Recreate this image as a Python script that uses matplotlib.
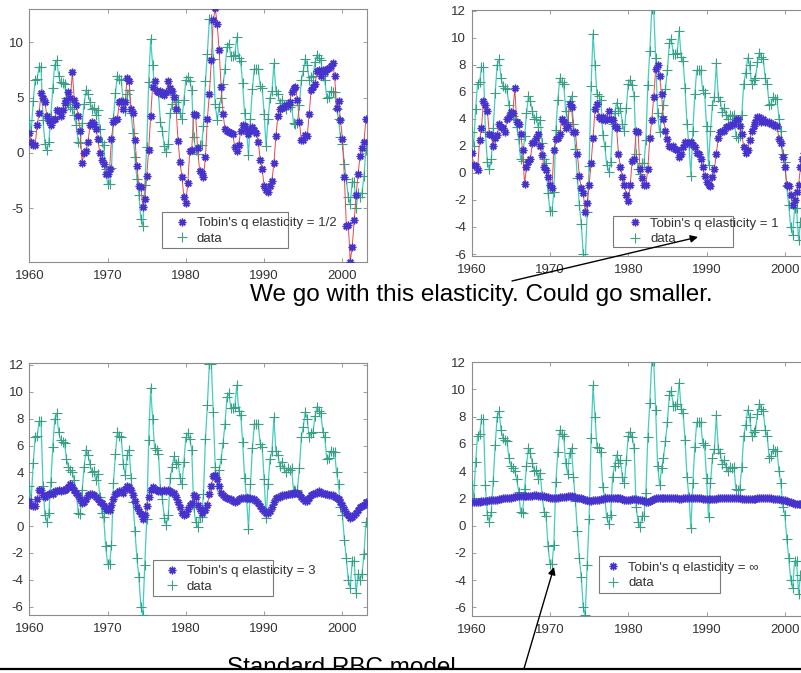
"""Tobin's q elasticity: model vs data, four panels pasted on one slide."""

import matplotlib
import numpy as np

matplotlib.use("Agg")
import matplotlib.pyplot as plt
from matplotlib.lines import Line2D
from matplotlib.patches import FancyArrowPatch, Rectangle

W, H = 801, 673
DPI = 100
FONT = ["Liberation Sans", "DejaVu Sans"]
TICK_SIZE = 9.5
LEGEND_SIZE = 9.5
NOTE_SIZE = 17.5

START_YEAR = 1960

# quarterly, 1960Q1 .. 2003Q1
DATA = [
    3.0, 2.0, 4.7, 6.6,  6.7, 7.8, 7.8, 3.0,  0.8, 0.3, 1.0, 3.3,
    5.9, 8.0, 8.4, 7.0,  6.4, 6.3, 6.2, 5.0,  4.4, 4.2, 4.0, 3.4,
    2.5, 1.0, 0.9, 2.7,  4.4, 5.7, 5.3, 4.6,  4.0, 4.1, 3.4, 3.9,
    2.2, 1.0, 0.7, -1.5,  -2.8, -2.8, -1.4, 3.2,  5.4, 7.0, 6.7, 6.6,
    4.6, 3.8, 5.3, 5.7,  3.6, 1.8, -0.4, -2.4,  -3.8, -6.0, -6.6, -2.9,
    0.5, 6.4, 10.3, 8.0,  5.8, 5.7, 5.4, 2.8,  2.0, 0.6, 0.1, 0.8,
    3.6, 4.4, 5.2, 4.6,  4.8, 3.6, 3.1, 4.8,  6.6, 6.9, 6.5, 5.7,
    1.4, 0.3, -0.1, 0.7,  0.7, 2.4, 6.5, 9.0,  12.1, 12.1, 8.5, 4.4,
    3.0, 4.2, 5.0, 6.2,  7.6, 9.6, 9.9, 8.8,  8.8, 8.9, 10.5, 8.6,
    8.3, 6.3, 3.6, 2.1,  -0.2, 3.1, 5.8, 7.6,  7.6, 7.6, 6.1, 5.9,
    3.5, 0.6, 3.1, 5.0,  5.6, 8.1, 5.6, 5.3,  4.5, 4.8, 4.3, 4.0,
    4.3, 4.2, 4.3, 2.7,  2.6, 2.7, 4.3, 6.6,  7.4, 8.5, 8.0, 6.6,
    6.9, 7.0, 8.2, 8.9,  8.6, 8.4, 7.0, 6.6,  5.0, 5.1, 5.6, 5.5,
    5.5, 4.0, 3.1, 1.4,  0.8, -1.0, -2.4, -4.0,  -4.6, -2.6, -2.6, -5.0,
    -3.6, -4.0, -3.6, -2.1,  0.3,
]

MODEL_HALF = [
    1.8, 1.0, 0.7, 0.7,  2.5, 3.6, 5.4, 5.0,  4.6, 3.3, 2.9, 2.5,
    3.0, 3.1, 3.9, 3.8,  3.3, 3.9, 4.5, 4.8,  5.5, 5.0, 7.3, 4.8,
    4.3, 3.3, 2.0, -0.9,  0.0, 0.2, 1.0, 2.5,  2.8, 2.6, 2.2, 1.3,
    0.0, -0.6, -1.0, -1.9,  -1.9, -1.5, 1.3, 2.8,  3.0, 3.1, 4.6, 4.7,
    4.0, 4.6, 6.8, 6.5,  4.0, 3.6, 1.2, -1.2,  -3.0, -3.1, -4.9, -4.2,
    -2.1, 0.3, 3.3, 6.0,  6.5, 5.6, 5.5, 5.6,  5.3, 5.2, 5.5, 6.5,
    5.9, 5.6, 5.1, 4.0,  1.1, -0.8, -2.2, -4.0,  -4.5, -2.7, 0.2, 0.3,
    3.5, 3.4, 0.4, -1.6,  -1.8, -2.2, -0.4, 3.1,  5.3, 8.4, 12.0, 13.1,
    11.7, 9.3, 6.0, 3.5,  2.2, 2.0, 1.9, 1.8,  1.7, 0.5, 0.2, 0.7,
    2.0, 2.5, 2.4, 2.1,  1.7, 2.0, 2.3, 2.1,  1.8, 1.0, -0.6, -1.5,
    -3.0, -3.4, -3.5, -3.0,  -2.5, -0.9, 1.5, 3.3,  4.0, 4.1, 4.2, 4.3,
    4.3, 4.6, 5.5, 5.9,  6.0, 4.8, 2.8, 1.2,  1.2, 1.6, 1.5, 3.5,
    5.7, 6.0, 6.2, 7.4,  7.5, 7.0, 7.5, 7.3,  7.6, 7.7, 7.9, 8.1,
    7.0, 4.1, 4.7, 3.0,  1.3, -2.2, -6.6, -6.5,  -9.85, -8.5, -6.1, -3.8,
    -1.9, -0.3, 0.4, 1.0,  3.1,
]

MODEL_ONE = [
    1.5, 0.6, 0.5, 0.2,  2.4, 3.3, 5.3, 5.0,  4.6, 2.9, 2.8, 2.0,
    2.6, 2.8, 3.6, 3.4,  3.3, 3.0, 4.0, 4.1,  4.5, 4.4, 6.3, 3.75,
    3.6, 2.9, 1.7, -0.8,  0.4, 0.8, 1.05, 2.2,  2.3, 2.6, 2.9, 2.0,
    1.3, 0.4, 0.2, -0.3,  -0.9, -1.15, 1.7, 2.5,  2.6, 2.9, 4.0, 3.8,
    3.3, 3.5, 5.1, 4.9,  3.0, 3.0, 1.4, -0.2,  -1.15, -1.5, -2.9, -2.25,
    -0.9, 0.7, 2.6, 4.7,  5.1, 4.1, 4.0, 4.1,  3.9, 4.0, 4.6, 4.0,
    3.9, 3.5, 3.3, 1.4,  0.45, -0.3, -0.9, -1.6,  -2.1, -0.9, 0.9, 1.0,
    3.1, 3.0, 0.3, -0.4,  -0.9, -0.9, 0.3, 2.6,  3.9, 5.6, 7.7, 8.0,
    7.2, 5.8, 4.0, 3.1,  2.5, 2.0, 1.9, 2.0,  1.8, 1.7, 1.2, 1.4,
    1.9, 2.3, 2.2, 2.2,  2.3, 2.1, 1.9, 1.5,  1.4, 1.05, 0.45, -0.2,
    -0.65, -0.9, -1.0, -0.3,  0.3, 1.4, 2.6, 3.0,  3.1, 3.1, 3.4, 3.5,
    3.5, 3.6, 3.6, 3.9,  4.0, 3.5, 2.9, 1.9,  1.5, 1.7, 2.4, 3.1,
    3.5, 3.75, 4.1, 4.1,  3.75, 4.0, 3.75, 3.75,  3.75, 3.6, 3.6, 3.5,
    3.5, 2.5, 2.2, 1.2,  0.45, -0.9, -1.0, -1.6,  -2.4, -2.0, -1.4, -0.9,
    0.4, 1.0, 1.5, 2.0,  2.6,
]

MODEL_THREE = [
    1.85, 1.6, 1.5, 1.5,  2.0, 2.7, 2.7, 2.3,  2.2, 2.3, 2.4, 2.5,
    2.4, 2.6, 2.6, 2.7,  2.6, 2.7, 2.7, 2.8,  2.9, 3.1, 2.9, 2.7,
    2.5, 2.3, 2.0, 1.7,  1.8, 2.0, 2.3, 2.4,  2.4, 2.3, 2.2, 2.0,
    1.8, 1.7, 1.5, 1.3,  1.2, 1.2, 1.6, 2.0,  2.4, 2.5, 2.6, 2.6,
    2.5, 2.8, 3.0, 2.9,  2.7, 2.3, 1.9, 1.4,  1.1, 0.9, 0.5, 0.8,
    1.5, 2.2, 2.7, 2.9,  2.8, 2.7, 2.6, 2.6,  2.6, 2.7, 2.6, 2.7,
    2.6, 2.5, 2.5, 2.2,  1.8, 1.4, 1.0, 0.8,  0.9, 1.3, 1.6, 1.7,
    2.3, 2.2, 1.6, 1.3,  1.0, 1.2, 1.2, 1.6,  2.4, 3.0, 3.7, 3.8,
    3.5, 3.0, 2.5, 2.3,  2.2, 2.1, 2.0, 2.0,  1.9, 1.8, 1.9, 2.0,
    2.1, 2.1, 2.1, 2.1,  2.1, 2.1, 2.0, 2.0,  1.9, 1.7, 1.5, 1.3,
    1.1, 1.0, 1.0, 1.1,  1.4, 1.8, 2.1, 2.2,  2.2, 2.3, 2.3, 2.3,
    2.4, 2.4, 2.4, 2.5,  2.5, 2.5, 2.4, 2.2,  2.0, 1.9, 1.9, 2.1,
    2.3, 2.4, 2.5, 2.5,  2.6, 2.5, 2.5, 2.4,  2.4, 2.3, 2.3, 2.3,
    2.2, 2.1, 2.0, 1.8,  1.6, 1.3, 1.0, 0.8,  0.6, 0.7, 0.8, 1.0,
    1.2, 1.4, 1.5, 1.6,  1.8,
]

MODEL_INF = [
    1.7, 1.7, 1.7, 1.75,  1.75, 1.8, 1.8, 1.8,  1.8, 1.85, 1.85, 1.9,
    1.9, 1.9, 1.95, 1.95,  2.0, 2.0, 2.0, 2.05,  2.05, 2.1, 2.1, 2.15,
    2.15, 2.2, 2.2, 2.2,  2.2, 2.2, 2.2, 2.2,  2.25, 2.25, 2.2, 2.2,
    2.2, 2.15, 2.1, 2.1,  2.05, 2.0, 2.0, 2.05,  2.05, 2.1, 2.1, 2.1,
    2.1, 2.15, 2.15, 2.15,  2.1, 2.1, 2.05, 2.0,  2.0, 1.95, 1.9, 1.85,
    1.8, 1.8, 1.85, 1.9,  1.9, 1.9, 1.95, 1.95,  2.0, 2.0, 2.0, 2.0,
    2.05, 2.05, 2.05, 2.0,  2.0, 1.95, 1.9, 1.9,  1.9, 1.9, 1.95, 1.95,
    1.95, 1.9, 1.9, 1.85,  1.8, 1.75, 1.75, 1.8,  1.85, 1.95, 2.0, 2.05,
    2.05, 2.05, 2.05, 2.0,  2.0, 2.0, 2.0, 2.0,  2.0, 2.0, 1.95, 1.95,
    2.0, 2.0, 2.0, 2.0,  2.0, 2.0, 2.0, 2.0,  2.0, 2.0, 1.95, 1.95,
    1.95, 1.95, 1.95, 1.95,  1.95, 1.95, 2.0, 2.0,  2.0, 2.0, 2.0, 2.0,
    2.0, 2.0, 2.0, 2.0,  2.0, 2.0, 1.95, 1.95,  1.95, 1.95, 1.95, 1.95,
    1.95, 1.95, 2.0, 2.0,  2.0, 2.0, 2.0, 2.0,  2.0, 2.0, 1.95, 1.95,
    1.95, 1.95, 1.9, 1.9,  1.85, 1.8, 1.75, 1.7,  1.65, 1.6, 1.6, 1.6,
    1.6, 1.6, 1.65, 1.65,  1.7,
]

MODEL_LABELS = [
    "Tobin's q elasticity = 1/2",
    "Tobin's q elasticity = 1",
    "Tobin's q elasticity = 3",
    "Tobin's q elasticity = \u221e",
]
DATA_LABEL = "data"
X_TICKS = [1960, 1970, 1980, 1990, 2000]

NOTE_TOP = "We go with this elasticity. Could go smaller."
NOTE_BOTTOM = "Standard RBC model..."

# layout, in pixels from the top-left corner of the slide
AXES_PX = [
    (29.3, 9.0, 366.7, 262.0),
    (471.7, 10.0, 809.1, 255.5),
    (29.3, 362.7, 366.7, 615.0),
    (471.7, 361.7, 809.1, 616.0),
]
Y_LIMITS = [(-9.88, 13.03), (-6.11, 12.05), (-6.62, 12.17), (-6.64, 12.04)]
Y_TICKS = [[-5, 0, 5, 10]] + [list(range(-6, 13, 2))] * 3
X_LIMIT = (1960, 2003.1)
# legend box (l, t, r, b), marker x, middle of the two rows
LEGEND_PX = [
    ((162, 212, 288, 248), 181.7, 231.0),
    ((613, 216, 733, 247), 635.0, 231.5),
    ((153, 560, 273, 596), 171.7, 579.0),
    ((599, 556, 720, 593), 613.3, 575.3),
]

DATA_LINE = "#45cdbd"
DATA_MARK = "#3a9f84"
MODEL_LINE = "#e5484d"
MODEL_MARK = "#4632cc"
SPINE = "#8c8c8c"
TEXT = "#333333"


def fx(x):
    return x / W


def fy(y):
    return 1 - y / H


def px_rect(left, top, right, bottom):
    return [fx(left), fy(bottom), (right - left) / W, (bottom - top) / H]


plt.rcParams["font.family"] = FONT
plt.rcParams["axes.unicode_minus"] = False

quarters = START_YEAR + np.arange(len(DATA)) / 4.0
models = [MODEL_HALF, MODEL_ONE, MODEL_THREE, MODEL_INF]

fig = plt.figure(figsize=(W / DPI, H / DPI), dpi=DPI)

for i, model in enumerate(models):
    ax = fig.add_axes(px_rect(*AXES_PX[i]))
    ax.plot(quarters, DATA, color=DATA_LINE, lw=0.9, zorder=2)
    (data_pts,) = ax.plot(
        quarters, DATA, ls="none", marker="+", ms=7, mew=0.8,
        color=DATA_MARK, zorder=3,
    )
    ax.plot(quarters, model, color=MODEL_LINE, lw=0.7, zorder=4)
    (model_pts,) = ax.plot(
        quarters, model, ls="none", marker=(8, 2, 0), ms=5.5, mew=1.0,
        color=MODEL_MARK, zorder=5,
    )

    ax.set_xlim(*X_LIMIT)
    ax.set_ylim(*Y_LIMITS[i])
    ax.set_xticks(X_TICKS)
    ax.set_yticks(Y_TICKS[i])
    ax.tick_params(
        direction="in", length=3, width=0.6, colors=SPINE, labelcolor=TEXT,
        labelsize=TICK_SIZE, top=True, right=True,
    )
    ax.tick_params(axis="x", pad=6)
    ax.tick_params(axis="y", pad=4)
    for spine in ax.spines.values():
        spine.set_color(SPINE)
        spine.set_linewidth(0.8)

    (bl, bt, br, bb), mark_x, rows_mid = LEGEND_PX[i]
    fig.add_artist(Rectangle(
        (fx(bl), fy(bb)), (br - bl) / W, (bb - bt) / H,
        transform=fig.transFigure, facecolor="white", edgecolor="#7a7a7a",
        lw=0.8, zorder=1,
    ))
    fig.legend(
        [model_pts, data_pts], [MODEL_LABELS[i], DATA_LABEL],
        loc="center left", bbox_to_anchor=(fx(mark_x - 6.6), fy(rows_mid)),
        bbox_transform=fig.transFigure, frameon=False, borderpad=0,
        borderaxespad=0, handlelength=1.0, handletextpad=0.65,
        labelspacing=0.25, fontsize=LEGEND_SIZE, labelcolor=TEXT,
    )

fig.text(fx(250), fy(301), NOTE_TOP, fontsize=NOTE_SIZE, ha="left",
         va="baseline", color="black")
fig.text(fx(226.7), fy(674), NOTE_BOTTOM, fontsize=NOTE_SIZE, ha="left",
         va="baseline", color="black", zorder=3)

for (x0, y0), (x1, y1) in [((512, 281), (698, 237)), ((523, 672), (554, 567))]:
    fig.add_artist(FancyArrowPatch(
        (fx(x0), fy(y0)), (fx(x1), fy(y1)), transform=fig.transFigure,
        arrowstyle="-|>", mutation_scale=11, lw=1.0, color="black",
        shrinkA=0, shrinkB=0, zorder=6,
    ))

fig.add_artist(Rectangle((0, 0), 1, fy(670), transform=fig.transFigure,
                         facecolor="white", edgecolor="none", zorder=9))
fig.add_artist(Line2D([0, 1], [fy(669), fy(669)], transform=fig.transFigure,
                      color="black", lw=1.6, zorder=10))

fig.savefig("out.png", dpi=DPI)
plt.close(fig)
